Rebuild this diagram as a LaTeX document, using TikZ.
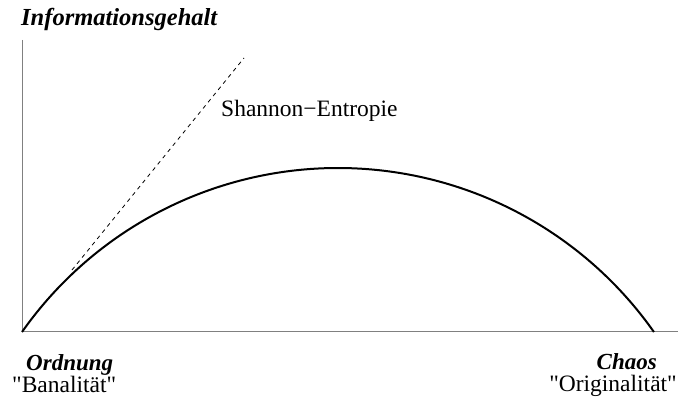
\documentclass[tikz,border=0pt]{standalone}
\usepackage{fontspec}
\setmainfont{Liberation Serif}[Ligatures=TeXOff]
\usepackage{tikz}
\usetikzlibrary{calc}

\begin{document}
\begin{tikzpicture}[x=1pt,y=1pt,
    achse/.style={draw=gray, line width=1pt},
    kurve/.style={line width=2pt},
    titel/.style={font=\fontsize{23}{26}\selectfont\bfseries\itshape, inner sep=0pt},
    schrift/.style={font=\fontsize{23.5}{26}\selectfont, inner sep=0pt}]
    % Rahmen wie im Original
    \useasboundingbox (-22,-69) rectangle (656,332);

    % Achsen
    \coordinate (O) at (0,0);
    \coordinate (Y) at (0,292);
    \coordinate (X) at (656,0);
    \draw[achse] (Y) -- (O) -- (X);

    % Bogen: Informationsgehalt zwischen Ordnung und Chaos
    \coordinate (E) at (632,0);
    \draw[kurve] (O) arc[start angle=144.86, end angle=35.14, radius=386.4];

    % Gerade der Shannon-Entropie
    \coordinate (S1) at (50,62);
    \coordinate (S2) at (222,274);
    \draw[dashed, dash pattern=on 4pt off 4pt, line width=0.8pt] (S1) -- (S2);

    % Beschriftungen
    \node[titel, font=\fontsize{24.5}{26}\selectfont\bfseries\itshape, anchor=base west] (info) at (-1,306) {Informationsgehalt};
    \node[schrift, anchor=base west] (shannon) at (199,215) {Shannon−Entropie};
    \node[titel, anchor=base west] (ordnung) at (4,-39) {Ordnung};
    \node[schrift, anchor=base west] (banal) at (-10,-61) {"Banalität"};
    \node[titel, anchor=base east] (chaos) at (635,-38) {Chaos};
    \node[schrift, anchor=base east] (orig) at (655,-60) {"Originalität"};
\end{tikzpicture}
\end{document}
